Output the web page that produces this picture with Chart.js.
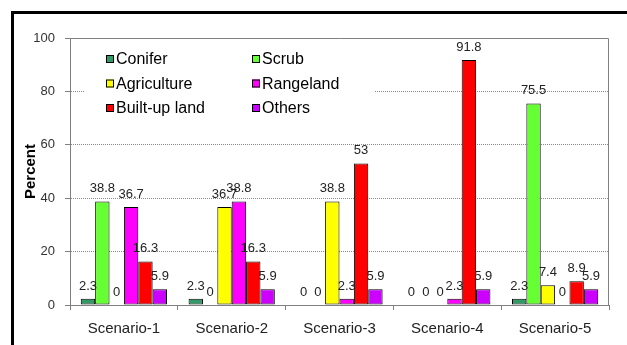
<!DOCTYPE html>
<html>
<head>
<meta charset="utf-8">
<script src="https://cdn.jsdelivr.net/npm/chart.js@4"></script>
<style>
	body { margin: 0; background: #fff; }
	#wrap { position: relative; width: 627px; height: 345px; overflow: hidden; }
	#frame { position: absolute; left: 11px; top: 11px; width: 700px; height: 400px; border: 3px solid #000; box-sizing: border-box; }
	canvas { position: absolute; left: 0; top: 0; }
</style>
</head>
<body>
<div id="wrap">
	<div id="frame"></div>
	<canvas id="myBarChart" width="627" height="345"></canvas>
</div>
<script>
var scenarios = ['Scenario-1', 'Scenario-2', 'Scenario-3', 'Scenario-4', 'Scenario-5'];
var seriesNames = ['Conifer', 'Scrub', 'Agriculture', 'Rangeland', 'Built-up land', 'Others'];
var conifer = [2.3, 2.3, 0, 0, 2.3];
var scrub = [38.8, 0, 0, 0, 75.5];
var agriculture = [0, 36.7, 38.8, 0, 7.4];
var rangeland = [36.7, 38.8, 2.3, 2.3, 0];
var builtUp = [16.3, 16.3, 53, 91.8, 8.9];
var others = [5.9, 5.9, 5.9, 5.9, 5.9];
var yMin = 0, yMax = 100, yStep = 20;

var FONT = '"Liberation Sans", Arial, sans-serif';
var colors = ['#339966', '#66FF33', '#FFFF00', '#FF00FF', '#FF0000', '#CC00FF'];
var values = [conifer, scrub, agriculture, rangeland, builtUp, others];

// value labels above each bar
var barLabels = {
	id: 'barLabels',
	afterDatasetsDraw: function(chart) {
		var ctx = chart.ctx;
		ctx.save();
		ctx.font = '13px ' + FONT;
		ctx.fillStyle = '#222';
		ctx.textAlign = 'center';
		ctx.textBaseline = 'alphabetic';
		chart.data.datasets.forEach(function(ds, i) {
			chart.getDatasetMeta(i).data.forEach(function(bar, j) {
				ctx.fillText(String(ds.data[j]), bar.x, bar.y - 9);
			});
		});
		ctx.restore();
	}
};

// legend box inside the plot area + plot area border
var insideLegend = {
	id: 'insideLegend',
	beforeDatasetsDraw: function(chart) {
		var a = chart.chartArea, ctx = chart.ctx;
		ctx.save();
		ctx.strokeStyle = '#808080';
		ctx.lineWidth = 1;
		ctx.beginPath();
		ctx.moveTo(a.left, a.top + 0.5);
		ctx.lineTo(a.right - 0.5, a.top + 0.5);
		ctx.lineTo(a.right - 0.5, a.bottom);
		ctx.stroke();

		ctx.fillStyle = '#fff';
		ctx.fillRect(a.left + 15, a.top + 3, 290, 84);

		ctx.font = '16px ' + FONT;
		ctx.textBaseline = 'middle';
		ctx.textAlign = 'left';
		chart.data.datasets.forEach(function(ds, i) {
			var col = i % 2, row = Math.floor(i / 2);
			var x = a.left + 36 + col * 146;
			var y = a.top + 21 + row * 24.5;
			ctx.fillStyle = ds.backgroundColor;
			ctx.fillRect(x, y - 4, 8, 8);
			ctx.strokeStyle = '#000';
			ctx.strokeRect(x + 0.5, y - 3.5, 7, 7);
			ctx.fillStyle = '#000';
			ctx.fillText(ds.label, x + 10, y + 1);
		});
		ctx.restore();
	}
};

var ctx = document.getElementById('myBarChart');
var myBarChart = new Chart(ctx, {
	type: 'bar',
	data: {
		labels: scenarios,
		datasets: seriesNames.map(function(name, i) {
			return {
				label: name,
				data: values[i],
				backgroundColor: colors[i],
				borderColor: '#000',
				borderWidth: 1,
				borderSkipped: false,
				categoryPercentage: 0.8,
				barPercentage: 1.0
			};
		})
	},
	plugins: [insideLegend, barLabels],
	options: {
		responsive: false,
		animation: false,
		devicePixelRatio: 1,
		layout: { padding: { top: 38, right: 18, bottom: 0, left: 0 } },
		plugins: {
			legend: { display: false },
			tooltip: { enabled: false }
		},
		scales: {
			x: {
				ticks: { color: '#222', font: { family: FONT, size: 15 }, padding: 10 },
				grid: { offset: true, drawOnChartArea: false, tickLength: 5, color: '#808080' },
				border: { color: '#808080' },
				afterFit: function(s) { s.height = 40; }
			},
			y: {
				min: yMin,
				max: yMax,
				ticks: { stepSize: yStep, color: '#333', font: { family: FONT, size: 13 }, padding: 10 },
				grid: {
					color: function(c) {
						var v = c.tick ? c.tick.value : null;
						return (v === yMin || v === yMax) ? 'rgba(0,0,0,0)' : '#8a8a8a';
					},
					tickColor: '#808080',
					tickLength: 5
				},
				border: { color: '#808080', dash: [1, 1] },
				title: {
					display: true,
					text: 'Percent',
					color: '#000',
					font: { family: FONT, size: 15, weight: 'bold' },
					padding: { top: 22, bottom: 0 }
				},
				afterFit: function(s) { s.width = 70; }
			}
		}
	}
});
</script>
</body>
</html>
